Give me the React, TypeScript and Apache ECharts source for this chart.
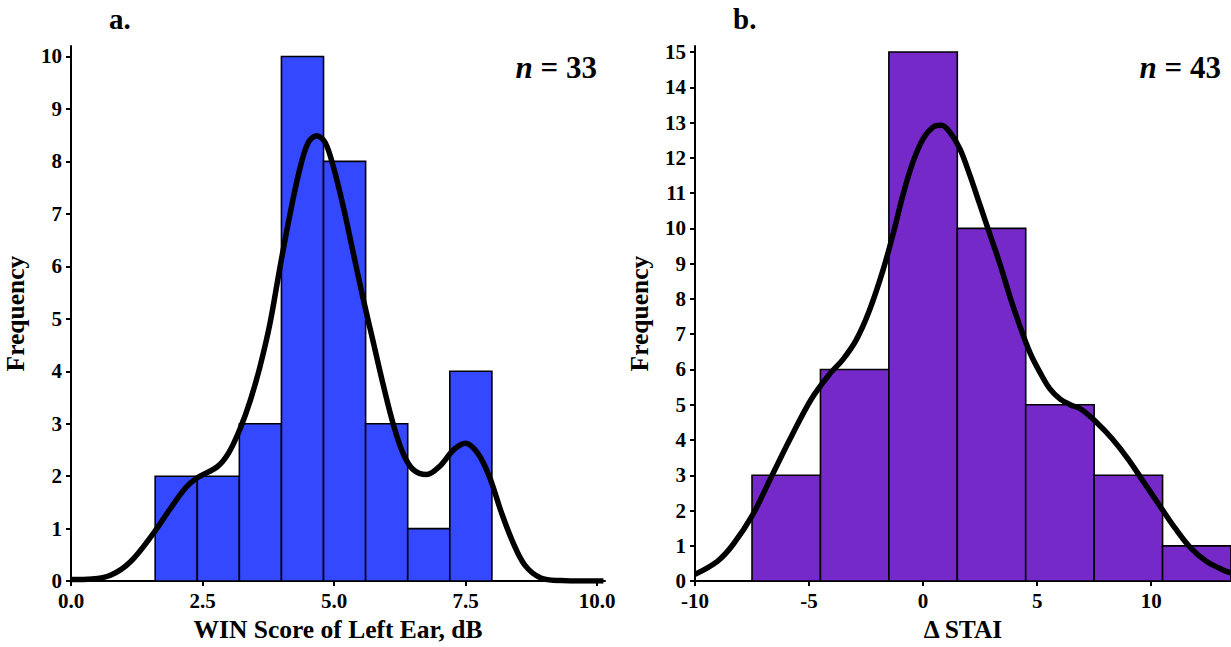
import React, { useEffect, useRef } from "react";
import * as echarts from "echarts";

// ---- Panel a: WIN Score of Left Ear ----
const leftBinEdges = [1.6, 2.4, 3.2, 4.0, 4.8, 5.6, 6.4, 7.2, 8.0];
const leftCounts = [2, 2, 3, 10, 8, 3, 1, 4];
const leftKdeX = [0, 0.4, 0.75, 1.13, 1.58, 1.88, 2.18, 2.4, 2.78, 3.0, 3.22, 3.41, 3.59, 3.78, 3.97, 4.16, 4.35, 4.51, 4.67, 4.83, 4.98, 5.17, 5.36, 5.55, 5.74, 5.93, 6.12, 6.31, 6.5, 6.76, 7.01, 7.28, 7.5, 7.73, 7.95, 8.18, 8.4, 8.63, 8.93, 9.3, 9.8, 10.12];
const leftKdeY = [0.03, 0.04, 0.11, 0.37, 0.93, 1.37, 1.78, 1.97, 2.18, 2.45, 2.92, 3.45, 4.08, 4.9, 5.97, 6.98, 7.86, 8.36, 8.49, 8.36, 7.92, 7.16, 6.28, 5.4, 4.58, 3.76, 3.01, 2.44, 2.13, 2.03, 2.19, 2.51, 2.63, 2.44, 2.0, 1.31, 0.74, 0.3, 0.06, 0.01, 0, 0];
const leftXTicks = [0, 2.5, 5, 7.5, 10];
const leftYTicks = [0, 1, 2, 3, 4, 5, 6, 7, 8, 9, 10];

// ---- Panel b: Δ STAI ----
const rightBinEdges = [-7.5, -4.5, -1.5, 1.5, 4.5, 7.5, 10.5, 13.5];
const rightCounts = [3, 6, 15, 10, 5, 3, 1];
const rightKdeX = [-10, -9.02, -8.34, -7.48, -6.62, -5.76, -4.91, -4.11, -3.52, -2.93, -2.35, -1.76, -1.32, -0.88, -0.44, 0.0, 0.44, 0.8, 1.17, 1.61, 2.05, 2.49, 2.93, 3.37, 3.81, 4.25, 4.69, 5.13, 5.57, 6.01, 6.45, 6.93, 7.62, 8.3, 8.99, 9.67, 10.36, 11.05, 11.73, 12.42, 13.1, 13.5];
const rightKdeY = [0.19, 0.56, 1.03, 1.87, 3.0, 4.12, 5.15, 5.86, 6.28, 6.84, 7.68, 8.81, 9.83, 10.95, 11.89, 12.54, 12.87, 12.92, 12.73, 12.26, 11.51, 10.67, 9.83, 8.99, 8.06, 7.22, 6.47, 5.91, 5.44, 5.16, 5.0, 4.87, 4.49, 4.03, 3.46, 2.81, 2.15, 1.5, 0.94, 0.56, 0.33, 0.23];
const rightXTicks = [-10, -5, 0, 5, 10];
const rightYTicks = [0, 1, 2, 3, 4, 5, 6, 7, 8, 9, 10, 11, 12, 13, 14, 15];

const FONT = "'Liberation Serif', 'Times New Roman', serif";

function buildBins(edges: number[], counts: number[]) {
  return counts.map((c, i) => [edges[i], edges[i + 1], c]);
}
function buildCurve(xs: number[], ys: number[]) {
  return xs.map((x, i) => [x, ys[i]]);
}

function histSeries(idx: number, data: number[][], color: string) {
  return {
    type: "custom",
    xAxisIndex: idx,
    yAxisIndex: idx,
    data,
    encode: { x: [0, 1], y: 2 },
    z: 2,
    renderItem: (params: any, api: any) => {
      const p0 = api.coord([api.value(0), api.value(2)]);
      const p1 = api.coord([api.value(1), 0]);
      return {
        type: "rect",
        shape: { x: p0[0], y: p0[1], width: p1[0] - p0[0], height: p1[1] - p0[1] },
        style: { fill: color, stroke: "#000", lineWidth: 1.6 },
      };
    },
  };
}

function lineSeries(idx: number, data: number[][]) {
  return {
    type: "line",
    xAxisIndex: idx,
    yAxisIndex: idx,
    data,
    smooth: 0.35,
    showSymbol: false,
    symbol: "none",
    z: 5,
    lineStyle: { color: "#000", width: 5.5 },
  };
}

const axisLabelBase = {
  color: "#000",
  fontFamily: FONT,
  fontWeight: "bold" as const,
  fontSize: 21,
  margin: 9,
};
const axisLineBase = { show: true, onZero: false, lineStyle: { color: "#000", width: 2 } };
const axisTickBase = { show: true, length: 5, lineStyle: { color: "#000", width: 2 } };
const nameStyle = { color: "#000", fontFamily: FONT, fontWeight: "bold" as const, fontSize: 25.5 };

export default function App() {
  const ref = useRef<HTMLDivElement>(null);
  useEffect(() => {
    document.body.style.margin = "0";
    if (!ref.current) return;
    const chart = echarts.init(ref.current, null, { renderer: "svg" });
    const option: any = {
      animation: false,
      backgroundColor: "#fff",
      grid: [
        { left: 71, right: 626, top: 46, bottom: 61, containLabel: false },
        { left: 695, right: 0, top: 46, bottom: 60, containLabel: false },
      ],
      xAxis: [
        {
          type: "value", gridIndex: 0, min: 0, max: 10.15,
          axisLine: axisLineBase, splitLine: { show: false },
          axisTick: { ...axisTickBase, customValues: leftXTicks },
          axisLabel: { ...axisLabelBase, customValues: leftXTicks, formatter: (v: number) => v.toFixed(1) },
          name: "WIN Score of Left Ear, dB", nameLocation: "middle", nameGap: 34, nameTextStyle: nameStyle,
        },
        {
          type: "value", gridIndex: 1, min: -10, max: 13.5,
          axisLine: axisLineBase, splitLine: { show: false },
          axisTick: { ...axisTickBase, customValues: rightXTicks },
          axisLabel: { ...axisLabelBase, customValues: rightXTicks, formatter: (v: number) => String(v) },
          name: "Δ STAI", nameLocation: "middle", nameGap: 34, nameTextStyle: nameStyle,
        },
      ],
      yAxis: [
        {
          type: "value", gridIndex: 0, min: 0, max: 10.2,
          axisLine: axisLineBase, splitLine: { show: false },
          axisTick: { ...axisTickBase, customValues: leftYTicks },
          axisLabel: { ...axisLabelBase, customValues: leftYTicks, formatter: (v: number) => String(v) },
          name: "Frequency", nameLocation: "middle", nameGap: 43, nameTextStyle: nameStyle,
        },
        {
          type: "value", gridIndex: 1, min: 0, max: 15.17,
          axisLine: axisLineBase, splitLine: { show: false },
          axisTick: { ...axisTickBase, customValues: rightYTicks },
          axisLabel: { ...axisLabelBase, customValues: rightYTicks, formatter: (v: number) => String(v) },
          name: "Frequency", nameLocation: "middle", nameGap: 43, nameTextStyle: nameStyle,
        },
      ],
      series: [
        histSeries(0, buildBins(leftBinEdges, leftCounts), "#3348FF"),
        lineSeries(0, buildCurve(leftKdeX, leftKdeY)),
        histSeries(1, buildBins(rightBinEdges, rightCounts), "#7629C9"),
        lineSeries(1, buildCurve(rightKdeX, rightKdeY)),
      ],
      graphic: [
        { type: "text", left: 109, top: 4, style: { text: "a.", font: `bold 29px ${FONT}`, fill: "#000" } },
        { type: "text", left: 733, top: 4, style: { text: "b.", font: `bold 29px ${FONT}`, fill: "#000" } },
        {
          type: "text", x: 597, y: 67,
          style: {
            text: "{i|n} = 33", align: "right", verticalAlign: "middle", fill: "#000",
            font: `bold 31px ${FONT}`,
            rich: { i: { fontStyle: "italic", fontWeight: "bold", fontSize: 31, fontFamily: FONT } },
          },
        },
        {
          type: "text", x: 1221, y: 67,
          style: {
            text: "{i|n} = 43", align: "right", verticalAlign: "middle", fill: "#000",
            font: `bold 31px ${FONT}`,
            rich: { i: { fontStyle: "italic", fontWeight: "bold", fontSize: 31, fontFamily: FONT } },
          },
        },
      ],
    };
    chart.setOption(option);
    return () => chart.dispose();
  }, []);
  return <div ref={ref} style={{ width: 1231, height: 647, position: "absolute", left: 0, top: 0 }} />;
}
